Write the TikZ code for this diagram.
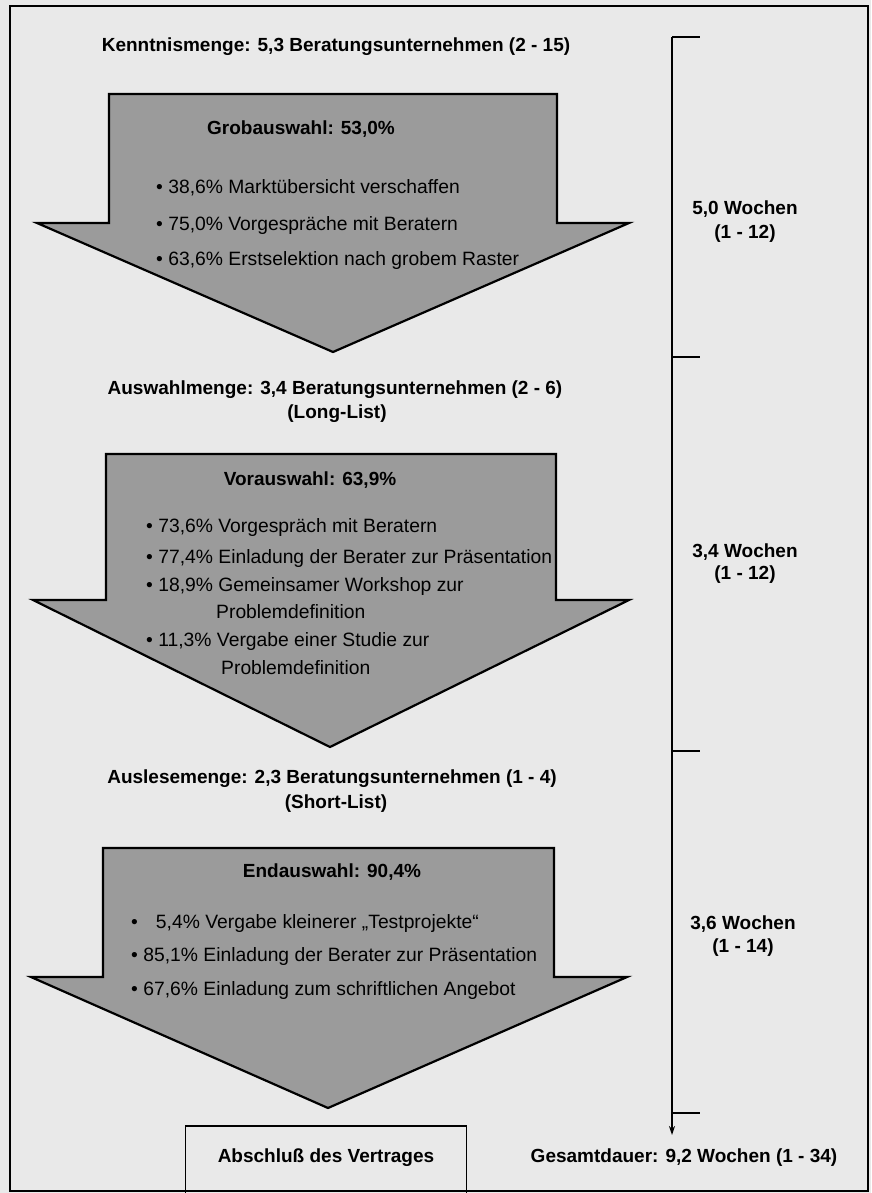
\documentclass[tikz,border=0pt]{standalone}
\usepackage{fontspec}
\setmainfont{Liberation Sans}
\usetikzlibrary{arrows.meta}
\definecolor{paper}{HTML}{E9E9E9}
\definecolor{arrowgray}{HTML}{9B9B9B}
\begin{document}
\begin{tikzpicture}[x=1pt,y=-1pt,
  blockarrow/.style={fill=arrowgray, draw=black, line width=2.2pt, line join=miter},
  lbl/.style={inner sep=0pt, text height=13.6pt, text depth=0pt, font=\fontsize{19}{23}\selectfont\bfseries},
  item/.style={inner sep=0pt, text height=13.6pt, text depth=0pt, anchor=west, font=\fontsize{19.3}{23}\selectfont},
  tickline/.style={line width=1.7pt},
  axisline/.style={line width=1.4pt, -{Stealth[length=9pt,width=6pt]}},
  contractbox/.style={draw=black, line width=1.8pt, minimum width=281pt, minimum height=70pt, anchor=north, inner sep=0pt, text height=13.6pt, text depth=10pt, font=\fontsize{19}{23}\selectfont\bfseries},
]
\fill[paper] (0,0) rectangle (871,1193);
\useasboundingbox (0,0) rectangle (871,1193);
\draw[line width=1.8pt] (10,6) rectangle (868,1191);

% block arrows
\draw[blockarrow] (109,94) -- (557,94) -- (557,223) -- (629,223) -- (333,352) -- (37,223) -- (109,223) -- cycle;
\draw[blockarrow] (106,454) -- (556,454) -- (556,600) -- (629,600) -- (330,747) -- (33,600) -- (106,600) -- cycle;
\draw[blockarrow] (103,848) -- (554,848) -- (554,977) -- (627,977) -- (328,1108) -- (31,977) -- (103,977) -- cycle;

% stage labels
\node[lbl] (kenntnis) at (336,45) {Kenntnismenge: 5,3 Beratungsunternehmen (2 - 15)};
\node[lbl] (grob) at (301,128) {Grobauswahl: 53,0\%};
\node[item] (g1) at (156,187) {• 38,6\% Marktübersicht verschaffen};
\node[item] (g2) at (156,224) {• 75,0\% Vorgespräche mit Beratern};
\node[item] (g3) at (156,259) {• 63,6\% Erstselektion nach grobem Raster};

\node[lbl] (auswahl) at (335,388) {Auswahlmenge: 3,4 Beratungsunternehmen (2 - 6)};
\node[lbl] (longlist) at (337,412) {(Long-List)};
\node[lbl] (vor) at (310,479) {Vorauswahl: 63,9\%};
\node[item] (v1) at (146,526) {• 73,6\% Vorgespräch mit Beratern};
\node[item] (v2) at (146,557) {• 77,4\% Einladung der Berater zur Präsentation};
\node[item] (v3) at (146,585) {• 18,9\% Gemeinsamer Workshop zur};
\node[item] (v3b) at (216,612) {Problemdefinition};
\node[item] (v4) at (146,640) {• 11,3\% Vergabe einer Studie zur};
\node[item] (v4b) at (221,668) {Problemdefinition};

\node[lbl] (auslese) at (332,777) {Auslesemenge: 2,3 Beratungsunternehmen (1 - 4)};
\node[lbl] (shortlist) at (336,802) {(Short-List)};
\node[lbl] (end) at (332,871) {Endauswahl: 90,4\%};
\node[item] (e1) at (131,922) {•\hspace{18pt}5,4\% Vergabe kleinerer „Testprojekte“};
\node[item] (e2) at (131,955) {• 85,1\% Einladung der Berater zur Präsentation};
\node[item] (e3) at (131,989) {• 67,6\% Einladung zum schriftlichen Angebot};

\node[contractbox] (contract) at (326,1125) {Abschluß des Vertrages};

% timeline
\coordinate (t0) at (672,37);
\coordinate (t1) at (672,357);
\coordinate (t2) at (672,751);
\coordinate (t3) at (672,1113);
\coordinate (tend) at (672,1135);
\coordinate (k0) at (700,37);
\coordinate (k1) at (700,357);
\coordinate (k2) at (700,751);
\coordinate (k3) at (700,1113);
\draw[axisline] (t0) -- (tend);
\draw[tickline] (t0) -- (k0);
\draw[tickline] (t1) -- (k1);
\draw[tickline] (t2) -- (k2);
\draw[tickline] (t3) -- (k3);

\node[lbl] (w1) at (745,208) {5,0 Wochen};
\node[lbl] (w1r) at (745,232) {(1 - 12)};
\node[lbl] (w2) at (745,551) {3,4 Wochen};
\node[lbl] (w2r) at (745,573) {(1 - 12)};
\node[lbl] (w3) at (743,923) {3,6 Wochen};
\node[lbl] (w3r) at (743,946) {(1 - 14)};
\node[lbl] (total) at (684,1156) {Gesamtdauer: 9,2 Wochen (1 - 34)};
\end{tikzpicture}
\end{document}
